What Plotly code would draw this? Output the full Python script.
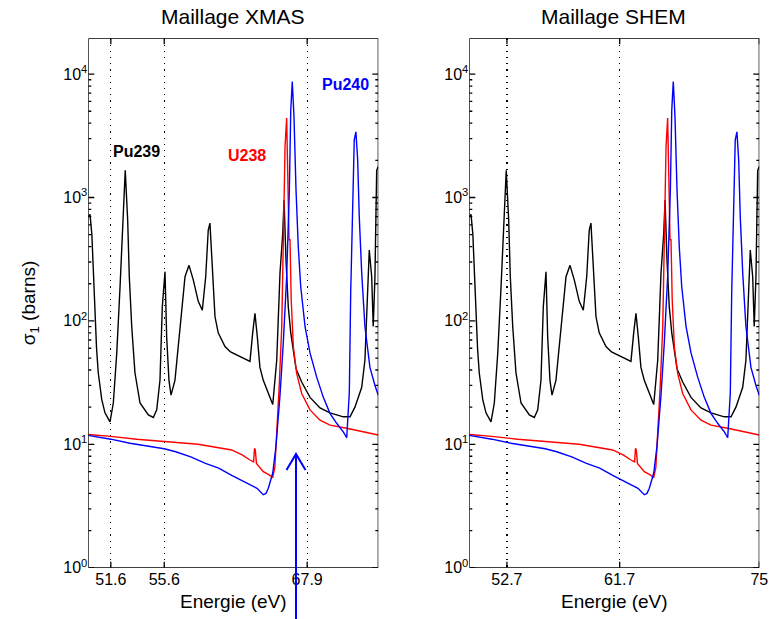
import math
import plotly.graph_objects as go

# ---------------- data ----------------
pu239_e = [50.0, 50.12, 50.25, 50.35, 50.47, 50.58, 50.70, 50.95, 51.18, 51.54, 51.78, 52.03, 52.27, 52.43,
           52.58, 52.65, 52.83, 52.95, 53.13, 53.37, 53.75, 54.38, 54.76, 55.02, 55.27, 55.45, 55.66, 55.79,
           55.97, 56.13, 56.44, 56.71, 56.98, 57.24, 57.56, 57.91, 58.31, 58.64, 58.92, 59.13, 59.27, 59.46,
           59.69, 59.96, 60.53, 61.0, 62.10, 62.68, 62.92, 63.12, 63.33, 63.56, 63.86, 64.31, 64.71, 65.07,
           65.37, 65.62, 65.74, 65.92, 66.13, 66.36, 66.60, 66.85, 67.38, 68.17, 69.13, 70.10, 71.42, 72.09,
           72.59, 73.28, 73.61, 73.85, 74.06, 74.31, 74.47, 74.65, 74.83, 75.0]
pu239_s = [700, 730, 500, 250, 100, 60, 38, 23, 18, 15.2, 21.6, 55, 190, 545,
           1480, 1660, 655, 228, 90, 38, 21.6, 17.3, 16.5, 19, 33, 130, 250, 74,
           33, 25, 33, 62, 130, 228, 282, 214, 144, 122, 228, 545, 620, 310,
           108, 80, 62, 56, 50, 47, 80, 115, 74, 42, 33, 26, 21, 48,
           245, 515, 955, 310, 130, 80, 55, 41, 32, 24, 19.7, 18, 16.7, 16.7,
           20, 29, 48, 168, 375, 228, 90, 228, 1660, 1780]

u238_e = [50.0, 51.6, 53.5, 55.6, 58.3, 61.1, 62.0, 62.68, 63.0, 63.08, 63.15, 63.25, 63.56, 63.86, 64.31,
          64.71, 64.9, 65.07, 65.3, 65.53, 65.67, 65.83, 65.98, 66.08, 66.2, 66.29, 66.4, 66.60, 66.91, 67.38,
          68.17, 69.13, 70.10, 71.76, 73.44, 75.0]
u238_s = [12.0, 11.6, 11.0, 10.5, 10.0, 9.0, 8.2, 7.46, 7.2, 9.3, 9.0, 7.0, 6.5, 6.0, 5.7,
          5.4, 6.5, 12, 30, 90, 580, 2580, 4400, 1500, 455, 455, 150, 62, 37.6, 25.8,
          19, 15.7, 14.3, 13.5, 12.6, 11.9]

pu240_e = [50.0, 50.7, 51.6, 53.0, 54.5, 55.6, 56.5, 57.7, 58.9, 60.0, 61.1, 62.1, 62.68, 63.3, 63.86,
           64.1, 64.31, 64.71, 65.0, 65.37, 65.67, 65.98, 66.23, 66.36, 66.50, 66.66, 66.85, 67.06, 67.29,
           67.70, 68.17, 68.81, 69.45, 70.10, 70.76, 71.42, 71.76, 72.02, 72.16, 72.36, 72.52, 72.69, 72.87,
           73.03, 73.28, 73.61, 74.13, 74.65, 75.0]
pu240_s = [11.8, 11.5, 11.0, 10.2, 9.6, 9.2, 8.7, 7.9, 7.0, 6.4, 5.6, 5.0, 4.68, 4.4, 3.9,
           4.0, 4.4, 5.85, 9.6, 25, 66, 228, 1150, 5100, 8700, 4500, 1150, 400, 190,
           90, 55, 35, 24, 17.8, 14.8, 12.6, 11.3, 26, 167, 955, 2930, 3400, 2000,
           700, 245, 90, 42, 30, 25]

series_names = ["Pu239", "U238", "Pu240"]
panel_titles = ["Maillage XMAS", "Maillage SHEM"]
xmas_ticks = [51.6, 55.6, 67.9]
shem_ticks = [52.7, 61.7, 75]
y_ticks = [1, 10, 100, 1000, 10000]
y_ticktext = ["10<sup>0</sup>", "10<sup>1</sup>", "10<sup>2</sup>", "10<sup>3</sup>", "10<sup>4</sup>"]

# ---------------- figure ----------------
W, H = 775, 619
FONT = "Liberation Sans, Arial, Helvetica, sans-serif"
colors = ["#000000", "#ff0000", "#0000ff"]
data = [(pu239_e, pu239_s), (u238_e, u238_s), (pu240_e, pu240_s)]
XRANGE = [math.log10(50), math.log10(75)]
YRANGE = [0, 4.29]
minor_vals = [k * 10 ** d for d in range(0, 5) for k in range(2, 10) if k * 10 ** d < 19000]

xdoms = [[88.3 / W, 378.3 / W], [469.3 / W, 759.3 / W]]
ydom = [1 - 567.7 / H, 1 - 38.3 / H]
PLOT_W = 290.0   # panel width in px
PLOT_H = 529.4   # panel height in px

fig = go.Figure()
for xa, ya in [("x", "y"), ("x2", "y2")]:
    for (e, s), c, n in zip(data, colors, series_names):
        fig.add_trace(go.Scatter(x=e, y=s, xaxis=xa, yaxis=ya, mode="lines", name=n,
                                 line=dict(color=c, width=1.4), showlegend=False))

# ---- axis box and tick marks, drawn through the axes themselves (no clipping) ----
xlo, xhi = 10 ** XRANGE[0], 10 ** XRANGE[1]
ylo, yhi = 10 ** YRANGE[0], 10 ** YRANGE[1]
dx_major = 10 ** ((XRANGE[1] - XRANGE[0]) * 6 / PLOT_W)   # 6 px as a log-x factor
dx_minor = 10 ** ((XRANGE[1] - XRANGE[0]) * 3 / PLOT_W)   # 3 px
dy_major = 10 ** ((YRANGE[1] - YRANGE[0]) * 6 / PLOT_H)   # 6 px as a log-y factor

for (xa, ya), xt in zip([("x", "y"), ("x2", "y2")], [xmas_ticks, shem_ticks]):
    bx = [xlo, xhi, xhi, xlo, xlo]
    by = [ylo, ylo, yhi, yhi, ylo]
    tx, ty = [], []
    for v in y_ticks:
        tx += [xlo, xlo * dx_major, None, xhi, xhi / dx_major, None]
        ty += [v, v, None, v, v, None]
    for v in minor_vals:
        tx += [xlo, xlo * dx_minor, None, xhi, xhi / dx_minor, None]
        ty += [v, v, None, v, v, None]
    for v in xt:
        tx += [v, v, None, v, v, None]
        ty += [ylo, ylo * dy_major, None, yhi, yhi / dy_major, None]
    fig.add_trace(go.Scatter(x=bx + [None] + tx, y=by + [None] + ty, xaxis=xa, yaxis=ya, mode="lines",
                             line=dict(color="#000000", width=1.3), showlegend=False,
                             hoverinfo="skip", cliponaxis=False, connectgaps=False))


def xaxis_cfg(domain, ticks, anchor):
    return dict(domain=domain, anchor=anchor, type="log", range=XRANGE,
                tickmode="array", tickvals=ticks, ticktext=[("%g" % t) for t in ticks],
                ticks="", showline=False,
                showgrid=True, gridcolor="#000000", gridwidth=1.2, griddash="1.2px,5px",
                tickfont=dict(family=FONT, size=16, color="black"),
                title=dict(text="Energie (eV)", font=dict(family=FONT, size=19, color="black"), standoff=7),
                zeroline=False, automargin=False)


def yaxis_cfg(domain, anchor, title):
    d = dict(domain=domain, type="log", range=YRANGE, anchor=anchor,
             tickmode="array", tickvals=y_ticks, ticktext=y_ticktext,
             ticks="", showline=False, showgrid=False, zeroline=False,
             tickfont=dict(family=FONT, size=16, color="black"),
             automargin=False)
    if title:
        d["title"] = dict(text=title, font=dict(family=FONT, size=19, color="black"), standoff=22)
    return d


fig.update_layout(
    template="none",
    width=W, height=H,
    margin=dict(l=0, r=0, t=0, b=0, pad=0),
    paper_bgcolor="white", plot_bgcolor="white",
    font=dict(family=FONT, color="black"),
    xaxis=xaxis_cfg(xdoms[0], xmas_ticks, "y"),
    yaxis=yaxis_cfg(ydom, "x", "σ<sub>1</sub> (barns)"),
    xaxis2=xaxis_cfg(xdoms[1], shem_ticks, "y2"),
    yaxis2=yaxis_cfg(ydom, "x2", None),
)

# panel titles
for cx, t in zip([233.3, 613.0], panel_titles):
    fig.add_annotation(x=cx / W, y=1 - 17 / H, xref="paper", yref="paper", text=t, showarrow=False,
                       font=dict(family=FONT, size=21, color="black"), xanchor="center", yanchor="middle")

# series labels (left panel, data coordinates)
label_pos = [(53.47, 2350), (62.40, 2180), (71.59, 8170)]
for (lx, ly), c, n in zip(label_pos, colors, series_names):
    fig.add_annotation(x=math.log10(lx), y=math.log10(ly), xref="x", yref="y", text="<b>%s</b>" % n,
                       showarrow=False, font=dict(family=FONT, size=16, color=c),
                       xanchor="center", yanchor="middle")


# blue arrow below the left panel
def P(px, py):
    return px / W, 1 - py / H


x0, y0 = P(296, 454)
x1, y1 = P(296, 619)
fig.add_shape(type="line", xref="paper", yref="paper", x0=x0, y0=y0, x1=x1, y1=y1,
              line=dict(color="#0000ff", width=2), opacity=1)
ax, ay = P(286.5, 470)
bx2, by2 = P(305.5, 470)
fig.add_shape(type="path", xref="paper", yref="paper",
              path="M %f %f L %f %f L %f %f" % (ax, ay, x0, y0, bx2, by2),
              line=dict(color="#0000ff", width=2), fillcolor="rgba(0,0,0,0)", opacity=1)

fig.write_html("out.html", config={"displayModeBar": False, "staticPlot": True},
               post_script="document.body.style.margin='0px';document.body.style.padding='0px';")
